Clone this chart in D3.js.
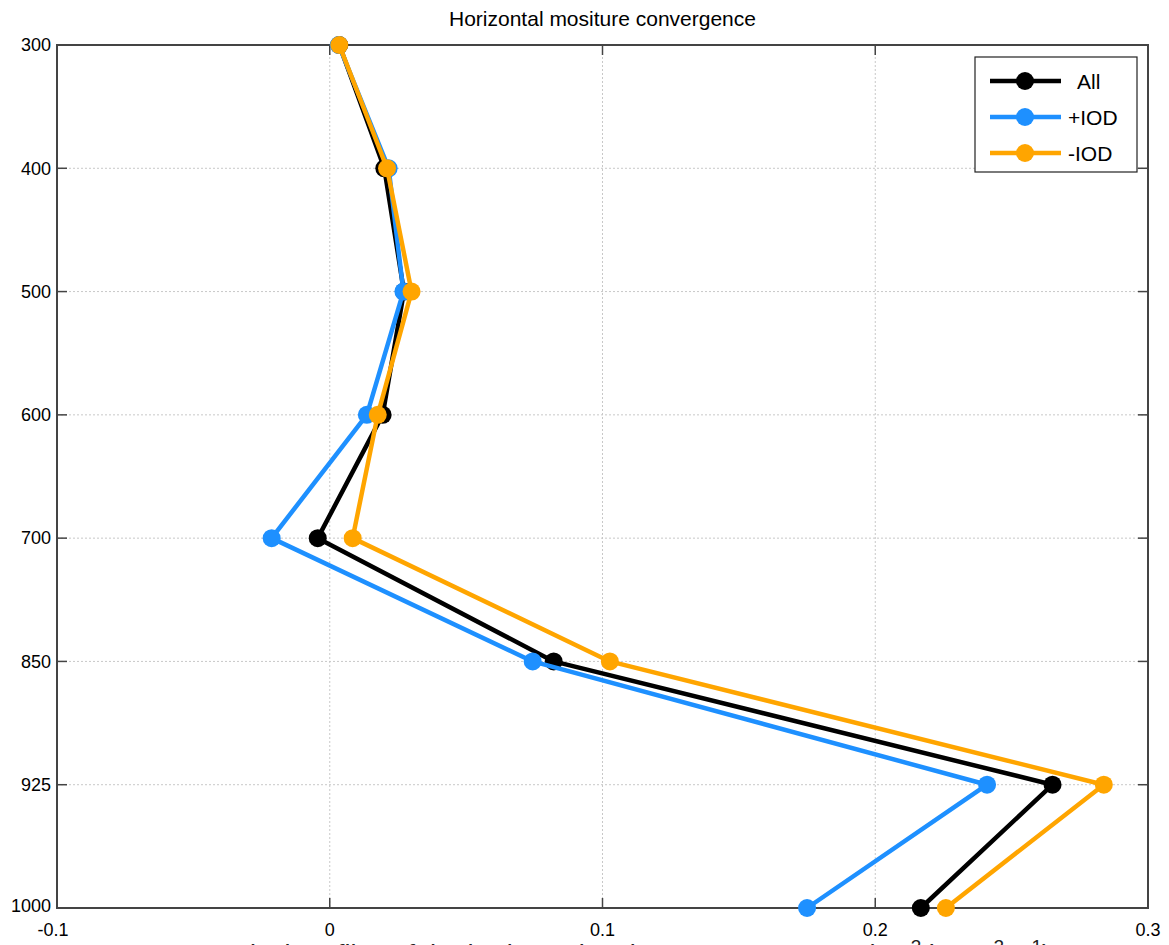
<!DOCTYPE html>
<html>
<head>
<meta charset="utf-8">
<script src="https://cdn.jsdelivr.net/npm/d3@7"></script>
<style>
  body { margin: 0; background: #fff; overflow: hidden; }
  text { font-family: "Liberation Sans", Arial, sans-serif; }
</style>
</head>
<body>
<div id="chart"></div>
<script>
// pressure levels (hPa), shown top to bottom
const levels = [300, 400, 500, 600, 700, 850, 925, 1000];
const xTicks = [-0.1, 0, 0.1, 0.2, 0.3];

const allValues = [0.0035, 0.0200, 0.0272, 0.0194, -0.0044, 0.0821, 0.2650, 0.2167];
const posIodValues = [0.0033, 0.0216, 0.0270, 0.0136, -0.0213, 0.0744, 0.2410, 0.1750];
const negIodValues = [0.0035, 0.0210, 0.0300, 0.0176, 0.0084, 0.1027, 0.2838, 0.2259];

const seriesNames = ['All', '+IOD', '-IOD'];
const seriesColors = ['#000000', '#1E90FF', '#FFA500'];

const margin = { top: 45, right: 21, bottom: 37, left: 57 };
const width = 1169, height = 945;
const innerW = width - margin.left - margin.right;
const innerH = height - margin.top - margin.bottom;

const svg = d3.select('#chart').append('svg')
  .attr('width', width)
  .attr('height', height);

const g = svg.append('g')
  .attr('transform', 'translate(' + margin.left + ',' + margin.top + ')');

const x = d3.scaleLinear().domain([-0.1, 0.3]).range([0, innerW]);
const y = d3.scalePoint().domain(levels).range([0, innerH]);

// grid
g.append('g').selectAll('line')
  .data(xTicks.slice(1, -1))
  .join('line')
  .attr('x1', d => x(d)).attr('x2', d => x(d))
  .attr('y1', 0).attr('y2', innerH)
  .attr('stroke', '#c8c8c8').attr('stroke-width', 1)
  .attr('stroke-dasharray', '2,2');

g.append('g').selectAll('line')
  .data(levels.slice(1, -1))
  .join('line')
  .attr('x1', 0).attr('x2', innerW)
  .attr('y1', d => y(d)).attr('y2', d => y(d))
  .attr('stroke', '#c8c8c8').attr('stroke-width', 1)
  .attr('stroke-dasharray', '2,2');

// box
g.append('rect')
  .attr('width', innerW).attr('height', innerH)
  .attr('fill', 'none').attr('stroke', '#444').attr('stroke-width', 2);

// ticks (inward) on all four sides
const tickLen = 10;
g.append('g').selectAll('line')
  .data(xTicks)
  .join('line')
  .attr('x1', d => x(d)).attr('x2', d => x(d))
  .attr('y1', innerH).attr('y2', innerH - tickLen)
  .attr('stroke', '#444').attr('stroke-width', 1.5);
g.append('g').selectAll('line')
  .data(xTicks)
  .join('line')
  .attr('x1', d => x(d)).attr('x2', d => x(d))
  .attr('y1', 0).attr('y2', tickLen)
  .attr('stroke', '#444').attr('stroke-width', 1.5);
g.append('g').selectAll('line')
  .data(levels)
  .join('line')
  .attr('x1', 0).attr('x2', tickLen)
  .attr('y1', d => y(d)).attr('y2', d => y(d))
  .attr('stroke', '#444').attr('stroke-width', 1.5);
g.append('g').selectAll('line')
  .data(levels)
  .join('line')
  .attr('x1', innerW).attr('x2', innerW - tickLen)
  .attr('y1', d => y(d)).attr('y2', d => y(d))
  .attr('stroke', '#444').attr('stroke-width', 1.5);

// tick labels
g.append('g').selectAll('text')
  .data(levels)
  .join('text')
  .attr('x', -6)
  .attr('y', d => d === 1000 ? y(d) - 2 : y(d))
  .attr('dy', '0.35em')
  .attr('text-anchor', 'end')
  .attr('font-size', 18)
  .text(d => d);

g.append('g').selectAll('text')
  .data(xTicks)
  .join('text')
  .attr('x', d => d === -0.1 ? x(d) - 4 : x(d))
  .attr('y', innerH + 28)
  .attr('text-anchor', 'middle')
  .attr('font-size', 18)
  .text(d => String(d));

// title
svg.append('text')
  .attr('x', margin.left + innerW / 2)
  .attr('y', 26)
  .attr('text-anchor', 'middle')
  .attr('font-size', 21)
  .text('Horizontal mositure convergence');

// series
const seriesData = [allValues, posIodValues, negIodValues];
const line = d3.line()
  .x(d => x(d.v))
  .y(d => y(d.p));

seriesData.forEach((vals, i) => {
  const pts = vals.map((v, k) => ({ p: levels[k], v: v }));
  const sg = g.append('g');
  sg.append('path')
    .datum(pts)
    .attr('fill', 'none')
    .attr('stroke', seriesColors[i])
    .attr('stroke-width', 4.5)
    .attr('stroke-linejoin', 'round')
    .attr('d', line);
  sg.selectAll('circle')
    .data(pts)
    .join('circle')
    .attr('cx', d => x(d.v))
    .attr('cy', d => y(d.p))
    .attr('r', 9)
    .attr('fill', seriesColors[i]);
});

// legend
const lg = svg.append('g').attr('transform', 'translate(975,57)');
lg.append('rect')
  .attr('width', 162).attr('height', 115)
  .attr('fill', '#fff').attr('stroke', '#222').attr('stroke-width', 1.2);
seriesNames.forEach((name, i) => {
  const yy = 24 + i * 36;
  lg.append('line')
    .attr('x1', 15).attr('x2', 86)
    .attr('y1', yy).attr('y2', yy)
    .attr('stroke', seriesColors[i]).attr('stroke-width', 4.5);
  lg.append('circle')
    .attr('cx', 50).attr('cy', yy).attr('r', 9)
    .attr('fill', seriesColors[i]);
  lg.append('text')
    .attr('x', i === 0 ? 102 : 93)
    .attr('y', yy)
    .attr('dy', '0.36em')
    .attr('font-size', 21)
    .text(name);
});

// caption below the figure (almost entirely cut off by the frame)
const cap = svg.append('text')
  .attr('x', 205)
  .attr('y', 964)
  .attr('font-family', '"Liberation Serif", "DejaVu Serif", serif')
  .attr('font-size', 27)
  .attr('fill', '#222');
cap.append('tspan').text('vertical profiles of the horizontal moisture convergence (10');
cap.append('tspan').attr('dy', -11).attr('font-size', 19).text('-3');
cap.append('tspan').attr('dy', 11).text(' kg m');
cap.append('tspan').attr('dy', -11).attr('font-size', 19).text('-2');
cap.append('tspan').attr('dy', 11).text(' s');
cap.append('tspan').attr('dy', -11).attr('font-size', 19).text('-1');
cap.append('tspan').attr('dy', 11).text(')');
</script>
</body>
</html>
